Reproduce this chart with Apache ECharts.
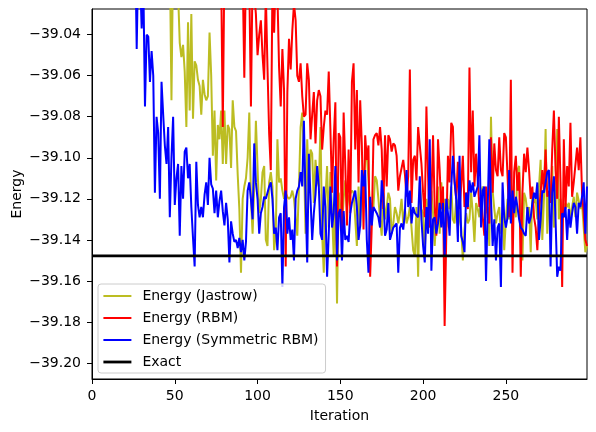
<!DOCTYPE html>
<html><head><meta charset="utf-8">
<script src="https://cdn.jsdelivr.net/npm/echarts@6/dist/echarts.min.js"></script>
<style>html,body{margin:0;padding:0;background:#fff}#c{width:596px;height:432px}</style>
</head><body><div id="c"></div>
<script>
const jastrow = [
-38.30,-38.45,-38.55,-38.62,-38.68,-38.72,-38.76,-38.79,-38.82,-38.84,
-38.86,-38.875,-38.89,-38.90,-38.91,-38.92,-38.93,-38.935,-38.94,-38.945,
-38.95,-38.955,-38.96,-38.962,-38.965,-38.968,-38.97,-38.972,-38.975,-38.977,
-38.98,-38.981,-38.983,-38.985,-38.986,-38.988,-38.99,-38.991,-38.992,-38.994,
-38.995,-38.996,-38.997,-38.998,-38.999,-39.0,-39.001,-39.002,-39.072,-39.00,
-39.005,-39.01,-39.02,-39.044,-39.051,-39.045,-39.058,-39.085,-39.034,-39.077,
-39.030,-39.081,-39.053,-39.055,-39.062,-39.065,-39.079,-39.062,-39.069,-39.072,
-39.070,-39.039,-39.060,-39.099,-39.077,-39.111,-39.084,-39.091,-39.077,-39.103,
-39.077,-39.103,-39.084,-39.086,-39.105,-39.072,-39.085,-39.087,-39.108,-39.125,
-39.156,-39.120,-39.114,-39.110,-39.100,-39.078,-39.120,-39.137,-39.114,-39.082,
-39.082,-39.127,-39.120,-39.107,-39.104,-39.140,-39.143,-39.112,-39.107,-39.114,
-39.145,-39.137,-39.091,-39.112,-39.110,-39.116,-39.120,-39.117,-39.119,-39.120,
-39.119,-39.116,-39.120,-39.120,-39.138,-39.114,-39.085,-39.078,-39.098,-39.137,
-39.091,-39.114,-39.096,-39.098,-39.122,-39.101,-39.111,-39.114,-39.085,-39.137,
-39.156,-39.120,-39.104,-39.134,-39.107,-39.127,-39.148,-39.114,-39.171,-39.117,
-39.124,-39.134,-39.120,-39.111,-39.124,-39.119,-39.119,-39.116,-39.117,-39.117,
-39.143,-39.114,-39.134,-39.116,-39.114,-39.101,-39.099,-39.111,-39.125,-39.122,
-39.124,-39.109,-39.111,-39.120,-39.130,-39.138,-39.117,-39.130,-39.124,-39.117,
-39.120,-39.137,-39.132,-39.124,-39.127,-39.132,-39.127,-39.120,-39.132,-39.125,
-39.132,-39.129,-39.124,-39.134,-39.145,-39.148,-39.124,-39.158,-39.112,-39.125,
-39.127,-39.146,-39.120,-39.127,-39.134,-39.116,-39.127,-39.143,-39.129,-39.114,
-39.137,-39.112,-39.127,-39.120,-39.134,-39.120,-39.125,-39.114,-39.130,-39.132,
-39.120,-39.122,-39.130,-39.134,-39.150,-39.135,-39.127,-39.132,-39.130,-39.117,
-39.127,-39.141,-39.122,-39.125,-39.129,-39.117,-39.114,-39.116,-39.127,-39.124,
-39.143,-39.080,-39.116,-39.125,-39.132,-39.127,-39.124,-39.137,-39.127,-39.145,
-39.130,-39.120,-39.130,-39.122,-39.125,-39.122,-39.129,-39.106,-39.104,-39.124,
-39.150,-39.117,-39.120,-39.127,-39.124,-39.146,-39.117,-39.122,-39.120,-39.130,
-39.114,-39.101,-39.140,-39.120,-39.086,-39.137,-39.117,-39.122,-39.104,-39.134,
-39.127,-39.086,-39.130,-39.120,-39.127,-39.125,-39.122,-39.124,-39.122,-39.130,
-39.124,-39.119,-39.129,-39.117,-39.117,-39.125,-39.122,-39.122,-39.146,-39.143
];
const rbm = [
-38.30,-38.40,-38.48,-38.55,-38.60,-38.64,-38.68,-38.71,-38.74,-38.76,
-38.78,-38.80,-38.82,-38.83,-38.845,-38.86,-38.87,-38.88,-38.89,-38.90,
-38.905,-38.91,-38.92,-38.925,-38.93,-38.935,-38.94,-38.945,-38.95,-38.952,
-38.955,-38.958,-38.96,-38.962,-38.965,-38.967,-38.97,-38.968,-38.972,-38.974,
-38.97,-38.976,-38.978,-38.975,-38.98,-38.982,-38.979,-38.984,-38.985,-38.983,
-38.987,-38.988,-38.985,-38.99,-38.991,-38.988,-38.993,-38.994,-38.99,-38.995,
-38.996,-38.993,-38.998,-38.997,-38.995,-39.0,-38.998,-39.001,-39.003,-38.999,
-39.004,-39.002,-39.006,-39.005,-39.003,-39.008,-39.006,-39.005,-39.01,-39.085,
-39.005,-39.008,-39.004,-39.01,-39.007,-39.012,-39.006,-39.01,-39.008,-39.012,
-39.005,-39.01,-39.061,-39.008,-39.012,-39.015,-39.075,-39.01,-39.02,-39.03,
-39.050,-39.040,-39.033,-39.050,-39.062,-39.02,-39.056,-39.088,-39.106,-39.015,
-39.039,-39.01,-39.02,-39.056,-39.075,-39.047,-39.067,-39.153,-39.068,-39.042,
-39.057,-39.038,-39.025,-39.033,-39.060,-39.063,-39.054,-39.070,-39.080,-39.079,
-39.054,-39.062,-39.091,-39.079,-39.068,-39.093,-39.072,-39.067,-39.070,-39.096,
-39.085,-39.077,-39.079,-39.058,-39.086,-39.117,-39.091,-39.073,-39.153,-39.088,
-39.090,-39.138,-39.078,-39.104,-39.133,-39.096,-39.127,-39.063,-39.054,-39.096,
-39.067,-39.112,-39.072,-39.094,-39.135,-39.089,-39.101,-39.094,-39.158,-39.133,
-39.091,-39.089,-39.088,-39.094,-39.085,-39.096,-39.125,-39.089,-39.114,-39.089,
-39.091,-39.097,-39.093,-39.094,-39.099,-39.116,-39.109,-39.109,-39.101,-39.108,
-39.119,-39.109,-39.057,-39.122,-39.101,-39.099,-39.111,-39.085,-39.094,-39.103,
-39.117,-39.129,-39.075,-39.109,-39.134,-39.120,-39.089,-39.124,-39.138,-39.091,
-39.106,-39.125,-39.114,-39.182,-39.138,-39.099,-39.112,-39.083,-39.085,-39.112,
-39.120,-39.102,-39.125,-39.114,-39.099,-39.124,-39.117,-39.125,-39.056,-39.107,
-39.077,-39.114,-39.098,-39.111,-39.124,-39.119,-39.129,-39.138,-39.114,-39.129,
-39.132,-39.090,-39.117,-39.093,-39.106,-39.109,-39.090,-39.106,-39.109,-39.088,
-39.090,-39.109,-39.129,-39.062,-39.156,-39.107,-39.099,-39.116,-39.107,-39.158,
-39.117,-39.098,-39.107,-39.095,-39.106,-39.120,-39.114,-39.129,-39.134,-39.145,
-39.127,-39.117,-39.106,-39.116,-39.096,-39.119,-39.116,-39.122,-39.096,-39.077,
-39.106,-39.120,-39.080,-39.112,-39.163,-39.091,-39.125,-39.104,-39.114,-39.083,
-39.119,-39.112,-39.112,-39.095,-39.106,-39.090,-39.117,-39.127,-39.140,-39.143
];
const symRbm = [
-38.40,-38.55,-38.62,-38.70,-38.74,-38.78,-38.81,-38.84,-38.86,-38.88,
-38.89,-38.91,-38.92,-38.93,-38.94,-38.95,-38.955,-38.96,-38.965,-38.97,
-38.975,-38.98,-38.985,-38.99,-38.99,-38.995,-38.99,-39.047,-39.00,-39.01,
-39.037,-39.015,-39.075,-39.040,-39.041,-39.063,-39.048,-39.060,-39.117,-39.080,
-39.088,-39.120,-39.063,-39.079,-39.094,-39.103,-39.085,-39.129,-39.100,-39.080,
-39.123,-39.110,-39.103,-39.138,-39.104,-39.120,-39.097,-39.095,-39.110,-39.103,
-39.124,-39.139,-39.153,-39.102,-39.123,-39.129,-39.124,-39.129,-39.118,-39.112,
-39.123,-39.100,-39.113,-39.115,-39.127,-39.116,-39.129,-39.121,-39.116,-39.126,
-39.133,-39.122,-39.130,-39.151,-39.131,-39.137,-39.141,-39.140,-39.144,-39.139,
-39.146,-39.140,-39.150,-39.141,-39.116,-39.112,-39.120,-39.130,-39.093,-39.112,
-39.120,-39.137,-39.127,-39.124,-39.119,-39.120,-39.117,-39.114,-39.112,-39.120,
-39.137,-39.134,-39.145,-39.129,-39.127,-39.163,-39.124,-39.116,-39.137,-39.129,
-39.140,-39.135,-39.150,-39.120,-39.116,-39.114,-39.107,-39.114,-39.082,-39.120,
-39.151,-39.098,-39.120,-39.140,-39.127,-39.118,-39.104,-39.114,-39.137,-39.140,
-39.114,-39.124,-39.158,-39.137,-39.114,-39.134,-39.127,-39.104,-39.150,-39.127,
-39.125,-39.150,-39.126,-39.140,-39.138,-39.141,-39.127,-39.122,-39.122,-39.116,
-39.124,-39.140,-39.133,-39.106,-39.114,-39.106,-39.140,-39.156,-39.119,-39.133,
-39.124,-39.124,-39.127,-39.129,-39.134,-39.111,-39.119,-39.138,-39.135,-39.122,
-39.140,-39.137,-39.134,-39.134,-39.132,-39.156,-39.134,-39.132,-39.135,-39.127,
-39.106,-39.124,-39.116,-39.132,-39.124,-39.127,-39.127,-39.129,-39.109,-39.130,
-39.143,-39.151,-39.124,-39.137,-39.091,-39.155,-39.130,-39.129,-39.137,-39.132,
-39.122,-39.134,-39.122,-39.148,-39.120,-39.127,-39.138,-39.114,-39.099,-39.111,
-39.120,-39.141,-39.099,-39.138,-39.141,-39.146,-39.117,-39.124,-39.111,-39.117,
-39.112,-39.119,-39.119,-39.114,-39.089,-39.134,-39.116,-39.114,-39.160,-39.125,
-39.091,-39.120,-39.143,-39.130,-39.150,-39.134,-39.132,-39.163,-39.112,-39.129,
-39.134,-39.129,-39.106,-39.132,-39.116,-39.127,-39.119,-39.124,-39.130,-39.134,
-39.135,-39.137,-39.138,-39.124,-39.132,-39.129,-39.122,-39.117,-39.120,-39.112,
-39.140,-39.130,-39.116,-39.117,-39.117,-39.107,-39.106,-39.153,-39.117,-39.109,
-39.130,-39.158,-39.153,-39.155,-39.127,-39.129,-39.124,-39.140,-39.125,-39.134,
-39.127,-39.122,-39.124,-39.137,-39.122,-39.124,-39.119,-39.112,-39.137,-39.114
];
const exactEnergy = -39.1478;
const seriesNames = ['Energy (Jastrow)', 'Energy (RBM)', 'Energy (Symmetric RBM)', 'Exact'];
const seriesColors = ['#bcbd22', '#ff0000', '#0000ff', '#000000'];
const xTicks = [0, 50, 100, 150, 200, 250];
const yTicks = [-39.20, -39.18, -39.16, -39.14, -39.12, -39.10, -39.08, -39.06, -39.04];
const xRange = [0, 299];
const yRange = [-39.2078, -39.0275];

const FONT = 'DejaVu Sans';
function toPairs(arr) { return arr.map((v, i) => [i, v]); }
const chart = echarts.init(document.getElementById('c'), null, {renderer: 'canvas'});
const lineSeries = [jastrow, rbm, symRbm].map((arr, k) => ({
  name: seriesNames[k], type: 'line', data: toPairs(arr), symbol: 'none',
  clip: true, lineStyle: {color: seriesColors[k], width: 2}, itemStyle: {color: seriesColors[k]}
}));
lineSeries.push({
  name: seriesNames[3], type: 'line', data: [[xRange[0], exactEnergy], [xRange[1], exactEnergy]],
  symbol: 'none', lineStyle: {color: seriesColors[3], width: 2.8}, itemStyle: {color: seriesColors[3]}
});
chart.setOption({
  animation: false,
  backgroundColor: '#ffffff',
  grid: {left: 92, right: 9, top: 9, bottom: 53, show: true, borderColor: '#000', borderWidth: 1,
    containLabel: false, outerBoundsMode: 'none'},
  xAxis: {
    type: 'value', min: xRange[0], max: xRange[1],
    axisLine: {show: true, onZero: false, lineStyle: {color: '#000', width: 1}},
    axisTick: {show: true, length: 5, customValues: xTicks, lineStyle: {color: '#000', width: 1}},
    axisLabel: {customValues: xTicks, color: '#000', fontSize: 14, fontFamily: FONT, margin: 10},
    splitLine: {show: false},
    name: 'Iteration', nameLocation: 'middle', nameGap: 30,
    nameTextStyle: {color: '#000', fontSize: 14, fontFamily: FONT}
  },
  yAxis: {
    type: 'value', min: yRange[0], max: yRange[1],
    axisLine: {show: true, onZero: false, lineStyle: {color: '#000', width: 1}},
    axisTick: {show: true, length: 5, customValues: yTicks, lineStyle: {color: '#000', width: 1}},
    axisLabel: {customValues: yTicks, color: '#000', fontSize: 14, fontFamily: FONT, margin: 11,
      formatter: v => '\u2212' + Math.abs(v).toFixed(2)},
    splitLine: {show: false},
    name: 'Energy', nameLocation: 'middle', nameGap: 68, nameMoveOverlap: false,
    nameTextStyle: {color: '#000', fontSize: 14, fontFamily: FONT}
  },
  legend: {
    orient: 'vertical', left: 98, top: 284,
    data: seriesNames.map((n, k) => k === 3 ? {name: n, lineStyle: {width: 2.8}} : {name: n}),
    itemWidth: 28, itemHeight: 14, itemGap: 8,
    padding: [5, 7, 4, 4],
    itemStyle: {opacity: 0},
    backgroundColor: 'rgba(255,255,255,0.8)', borderColor: '#cccccc', borderWidth: 1, borderRadius: 3,
    textStyle: {color: '#000', fontSize: 14, fontFamily: FONT, padding: [0, 0, 0, 6], lineHeight: 14},
    selectedMode: false
  },
  series: lineSeries
});
</script>
</body></html>
